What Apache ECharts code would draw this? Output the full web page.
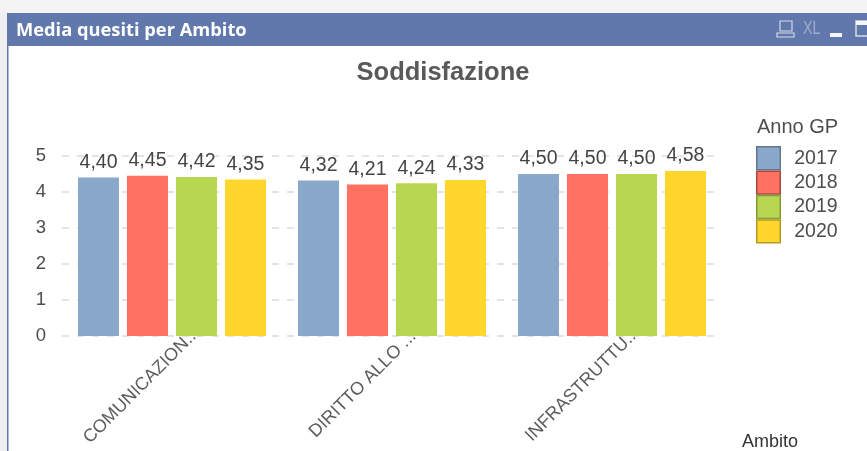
<!DOCTYPE html>
<html><head><meta charset="utf-8">
<style>html,body{margin:0;padding:0;background:#fff;overflow:hidden}#c{width:867px;height:451px}</style>
<script src="https://cdn.jsdelivr.net/npm/echarts@6/dist/echarts.min.js"></script></head>
<body><div id="c"></div>
<script>
const categories = ['COMUNICAZION..', 'DIRITTO ALLO ...', 'INFRASTRUTTU..'];
const years = ['2017', '2018', '2019', '2020'];
const v2017 = [4.40, 4.32, 4.50];
const v2018 = [4.45, 4.21, 4.50];
const v2019 = [4.42, 4.24, 4.50];
const v2020 = [4.35, 4.33, 4.58];
const yTicks = [0, 1, 2, 3, 4, 5];
const colors = ['#8aa8c9', '#ff7262', '#b8d750', '#ffd62c'];
const borders = ['#64778f', '#a54a40', '#83993a', '#b39a24'];
const seriesValues = [v2017, v2018, v2019, v2020];
const font = '"Liberation Sans", Arial, sans-serif';
const chart = echarts.init(document.getElementById('c'), null, {renderer: 'canvas'});
chart.setOption({
  animation: false,
  backgroundColor: '#fff',
  title: {text: 'Soddisfazione', left: 438, top: 55, textAlign: 'center',
    textStyle: {fontFamily: font, fontSize: 25.5, fontWeight: 'bold', color: '#595959'}},
  legend: {orient: 'vertical', left: 751, top: 141, itemGap: 0, itemWidth: 23.5, itemHeight: 22.9,
    icon: 'rect', selectedMode: false,
    textStyle: {fontFamily: font, fontSize: 19.5, lineHeight: 20, color: '#4d4d4d', padding: [0, 0, 0, 9]},
    data: years.map((y, i) => ({name: y, itemStyle: {borderColor: borders[i], borderWidth: 1.5}}))},
  grid: {left: 62, right: 145, top: 156, height: 180},
  xAxis: {type: 'category', data: categories,
    axisLine: {show: false}, axisTick: {show: false},
    axisLabel: {rotate: 45, interval: 0, fontFamily: font, fontSize: 18, color: '#5c5c5c', margin: 19, padding: [0, -30, 0, 0]}},
  yAxis: {type: 'value', min: 0, max: 5, interval: 1,
    axisLine: {show: false}, axisTick: {show: false},
    axisLabel: {fontFamily: font, fontSize: 18.5, color: '#4d4d4d', margin: 16,
      customValues: yTicks},
    splitLine: {lineStyle: {color: '#dcdcdc', type: [7, 8], width: 1.5}}},
  series: years.map((y, i) => ({
    name: y, type: 'bar', data: seriesValues[i], barWidth: 41, barGap: '19.5%',
    itemStyle: {color: colors[i]},
    label: {show: true, position: 'top', distance: 5, fontFamily: font, fontSize: 19.5, color: '#444',
      formatter: p => p.value.toFixed(2).replace('.', ',')}
  })),
  graphic: [
    {type: 'rect', silent: true, z: -1, shape: {x: 0, y: 0, width: 867, height: 13}, style: {fill: '#f3f3f3'}},
    {type: 'rect', silent: true, z: -1, shape: {x: 0, y: 13, width: 7, height: 438}, style: {fill: '#efefef'}},
    {type: 'rect', silent: true, z: -1, shape: {x: 7, y: 13, width: 860, height: 33}, style: {fill: '#6078ab'}},
    {type: 'rect', silent: true, z: -1, shape: {x: 7, y: 46, width: 1.5, height: 405}, style: {fill: '#6078ab'}},
    {type: 'text', silent: true, style: {x: 16, y: 22, text: 'Media quesiti per Ambito', fill: '#fff',
      font: 'bold 18.3px "Open Sans", "Noto Sans", sans-serif'}},
    {type: 'text', silent: true, style: {x: 757, y: 117, text: 'Anno GP', fill: '#4d4d4d', font: '20px ' + font}},
    {type: 'text', silent: true, style: {x: 742, y: 433, text: 'Ambito', fill: '#333', font: '18px ' + font}},
    {type: 'rect', silent: true, shape: {x: 780, y: 21, width: 12, height: 10}, style: {fill: 'none', stroke: '#d5dbe8', lineWidth: 1.2}},
    {type: 'rect', silent: true, shape: {x: 777, y: 33, width: 17, height: 4}, style: {fill: 'none', stroke: '#d5dbe8', lineWidth: 1.2}},
    {type: 'text', silent: true, x: 803, y: 19, scaleX: 0.75, style: {x: 0, y: 0, text: 'XL', fill: '#9dadcb', font: '19px ' + font}},
    {type: 'rect', silent: true, shape: {x: 830, y: 33, width: 12, height: 4}, style: {fill: '#f4f6fa'}},
    {type: 'rect', silent: true, shape: {x: 856, y: 21, width: 14, height: 15}, style: {fill: 'none', stroke: '#d5dbe8', lineWidth: 1.5}},
    {type: 'rect', silent: true, shape: {x: 856, y: 21, width: 14, height: 4}, style: {fill: '#f4f6fa'}}
  ]
});
</script></body></html>
